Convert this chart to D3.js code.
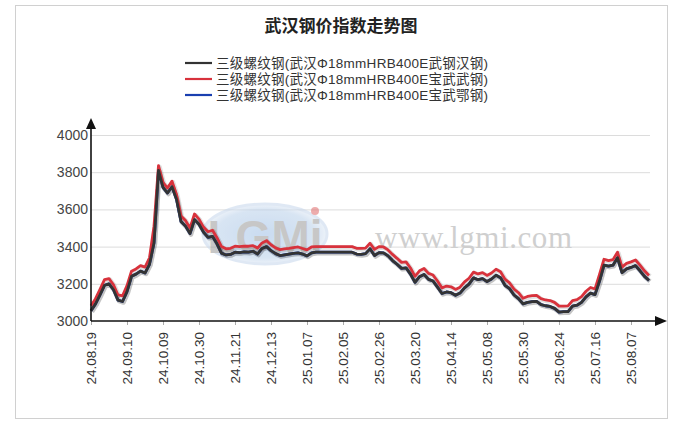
<!DOCTYPE html>
<html><head><meta charset="utf-8">
<script src="https://cdn.jsdelivr.net/npm/d3@7"></script>
<style>
html,body{margin:0;padding:0;background:#fff;}
svg{display:block;}
</style></head>
<body>
<svg id="c" width="692" height="432"></svg>
<script>
const title = "武汉钢价指数走势图";
const seriesNames = [
  "三级螺纹钢(武汉Φ18mmHRB400E武钢汉钢)",
  "三级螺纹钢(武汉Φ18mmHRB400E宝武武钢)",
  "三级螺纹钢(武汉Φ18mmHRB400E宝武鄂钢)"
];
const seriesColors = ["#333333", "#d8323c", "#1a3fb0"];
const xLabels = ["24.08.19","24.09.10","24.10.09","24.10.30","24.11.21","24.12.13","25.01.07","25.02.05","25.02.26","25.03.20","25.04.14","25.05.08","25.05.30","25.06.24","25.07.16","25.08.07"];
const yTicks = [3000,3200,3400,3600,3800,4000];
const labelEvery = 8;

const wuganHangang = [3055,3092,3140,3192,3200,3168,3112,3105,3158,3240,
 3252,3268,3258,3305,3420,3810,3718,3688,3722,3655,
 3535,3510,3470,3545,3520,3478,3450,3455,3415,3365,
 3355,3358,3370,3368,3372,3370,3375,3360,3390,3400,
 3378,3362,3352,3356,3360,3364,3366,3360,3350,3366,
 3370,3370,3370,3370,3370,3370,3370,3370,3370,3360,
 3358,3362,3388,3352,3368,3366,3350,3325,3305,3283,
 3286,3252,3208,3238,3250,3224,3215,3182,3148,3156,
 3152,3138,3150,3178,3198,3232,3222,3228,3212,3226,
 3246,3233,3192,3174,3140,3120,3092,3100,3104,3106,
 3088,3082,3078,3068,3048,3050,3050,3080,3085,3100,
 3130,3150,3142,3215,3300,3295,3300,3340,3260,3280,
 3288,3298,3270,3240,3218];
const baowuWugang = [3082,3120,3170,3222,3228,3195,3140,3135,3190,3268,
 3280,3298,3290,3340,3510,3835,3745,3715,3752,3680,
 3565,3540,3500,3575,3548,3505,3480,3488,3448,3400,
 3388,3391,3402,3400,3402,3402,3405,3392,3420,3432,
 3410,3393,3384,3388,3391,3395,3398,3390,3382,3398,
 3400,3400,3400,3400,3400,3400,3400,3400,3400,3391,
 3390,3392,3418,3385,3400,3398,3382,3358,3337,3315,
 3318,3285,3240,3270,3282,3256,3247,3215,3178,3188,
 3184,3170,3182,3210,3230,3263,3253,3260,3245,3258,
 3278,3265,3225,3205,3172,3152,3122,3132,3136,3138,
 3120,3113,3110,3100,3080,3080,3081,3110,3115,3131,
 3160,3180,3172,3250,3332,3325,3330,3370,3290,3310,
 3318,3328,3300,3270,3245];
const baowuEgang = wuganHangang.slice();

const svg = d3.select("#c");
const X0 = 91, X1 = 649, Y0 = 321, Y1 = 135;
const n = baowuWugang.length;
const x = d3.scaleLinear().domain([0, n-1]).range([X0, X1]);
const y = d3.scaleLinear().domain([3000, 4000]).range([Y0, Y1]);

// border
svg.append("rect").attr("x",15.5).attr("y",5.5).attr("width",652).attr("height",413)
  .attr("fill","none").attr("stroke","#d0d0d0");

// title
svg.append("text").attr("x",341).attr("y",32).attr("text-anchor","middle")
  .attr("font-family","'Noto Sans CJK SC',sans-serif").attr("font-weight","bold")
  .attr("font-size",17).attr("fill","#222").text(title);

// legend
const legY = [63, 79, 95];
seriesNames.forEach((nm,i)=>{
  svg.append("line").attr("x1",185).attr("x2",212).attr("y1",legY[i]).attr("y2",legY[i])
    .attr("stroke",seriesColors[i]).attr("stroke-width",2.2);
  svg.append("text").attr("x",216).attr("y",legY[i]+5)
    .attr("font-family","'Liberation Sans','Noto Sans CJK SC',sans-serif").attr("font-size",13.5)
    .attr("textLength",272).attr("lengthAdjust","spacing")
    .attr("fill","#333").text(nm);
});

// gridlines
svg.append("g").selectAll("line").data(yTicks.filter(v=>v>3000)).join("line")
  .attr("x1",X0).attr("x2",650).attr("y1",d=>y(d)+0.5).attr("y2",d=>y(d)+0.5)
  .attr("stroke","#dcdcdc").attr("stroke-width",1);

// watermark
const wm = svg.append("g").attr("opacity",0.55);
const grad = svg.append("defs").append("radialGradient").attr("id","wg");
grad.append("stop").attr("offset","0%").attr("stop-color","#9fc0e6");
grad.append("stop").attr("offset","80%").attr("stop-color","#b9d0ea");
grad.append("stop").attr("offset","100%").attr("stop-color","#dfe9f5");
wm.append("ellipse").attr("cx",265).attr("cy",234).attr("rx",62).attr("ry",30)
  .attr("fill","url(#wg)").attr("stroke","#c6d7ec").attr("stroke-width",3);
wm.append("text").attr("x",265).attr("y",253).attr("text-anchor","middle")
  .attr("font-family","'Liberation Sans',Arial,sans-serif").attr("font-weight","bold")
  .attr("font-size",46).attr("fill","#9a9a9a").text("LGMi");
wm.append("circle").attr("cx",315).attr("cy",211).attr("r",4).attr("fill","#e06a6a");
svg.append("text").attr("x",375).attr("y",248)
  .attr("font-family","'Liberation Serif','Times New Roman',serif")
  .attr("font-size",31).attr("fill","#cfcfcf").attr("textLength",197)
  .text("www.lgmi.com");

// lines
const line = d3.line().x((d,i)=>x(i)).y(d=>y(d)).curve(d3.curveLinear);
const order = [[baowuEgang,2],[baowuWugang,1],[wuganHangang,0]];
order.forEach(([arr,ci])=>{
  svg.append("path").datum(arr).attr("d",line).attr("fill","none")
    .attr("stroke","rgba(0,0,0,0.12)").attr("stroke-width",4.5)
    .attr("transform","translate(1,1)").attr("stroke-linejoin","round");
});
order.forEach(([arr,ci])=>{
  svg.append("path").datum(arr).attr("d",line).attr("fill","none")
    .attr("stroke",seriesColors[ci]).attr("stroke-width",2.8)
    .attr("stroke-linejoin","round");
});

// y axis labels
svg.append("g").selectAll("text").data(yTicks).join("text")
  .attr("x",88).attr("y",d=>y(d)+5).attr("text-anchor","end")
  .attr("font-family","'Liberation Sans',Arial,sans-serif").attr("font-size",14)
  .attr("fill","#444").text(d=>d);

// x axis
const tickIdx = d3.range(0, xLabels.length).map(k=>k*labelEvery);
const xAxis = d3.axisBottom(x).tickValues(tickIdx).tickSize(4)
  .tickFormat((d)=>xLabels[d/labelEvery]);
const gx = svg.append("g").attr("transform",`translate(0,${Y0})`).call(xAxis);
gx.select(".domain").remove();
gx.selectAll(".tick line").attr("stroke","#aaa");
gx.selectAll(".tick text").attr("transform","rotate(-90)")
  .attr("text-anchor","end").attr("x",-11).attr("y",0).attr("dy","0.35em")
  .attr("font-family","'Liberation Sans',Arial,sans-serif").attr("font-size",13.5)
  .attr("fill","#333");

// axis lines with arrows
svg.append("line").attr("x1",X0).attr("x2",X0).attr("y1",Y0).attr("y2",127)
  .attr("stroke","#111").attr("stroke-width",1.6);
svg.append("path").attr("d",`M${X0-5},129 L${X0},118 L${X0+5},129 Z`).attr("fill","#111");
svg.append("line").attr("x1",X0).attr("x2",657).attr("y1",Y0).attr("y2",Y0)
  .attr("stroke","#111").attr("stroke-width",1.6);
svg.append("path").attr("d",`M655,${Y0-5} L667,${Y0} L655,${Y0+5} Z`).attr("fill","#111");
</script>
</body></html>
